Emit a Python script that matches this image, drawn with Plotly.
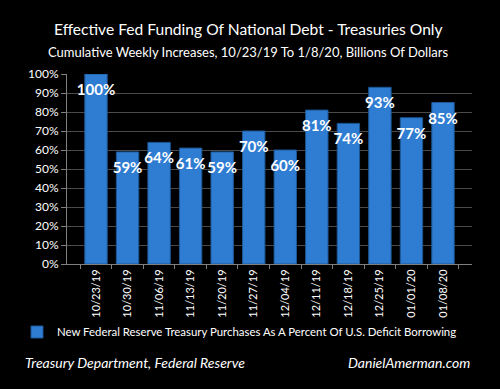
import plotly.graph_objects as go

dates = ["10/23/19", "10/30/19", "11/06/19", "11/13/19", "11/20/19", "11/27/19",
         "12/04/19", "12/11/19", "12/18/19", "12/25/19", "01/01/20", "01/08/20"]
values = [100, 59, 64, 61, 59, 70, 60, 81, 74, 93, 77, 85]
series_name = "New Federal Reserve Treasury Purchases As A Percent Of U.S. Deficit Borrowing"
title = "Effective Fed Funding Of National Debt - Treasuries Only"
subtitle = "Cumulative Weekly Increases, 10/23/19 To 1/8/20, Billions Of Dollars"
source_left = "Treasury Department, Federal Reserve"
source_right = "DanielAmerman.com"
y_ticks = list(range(0, 101, 10))

FONT = "Lato, 'Open Sans', sans-serif"

fig = go.Figure()
fig.add_trace(go.Bar(
    x=dates, y=values, name=series_name,
    marker=dict(color="#2f7dd3", line=dict(color="#1d5794", width=1)),
    textposition="none",
    showlegend=True,
))
fig.add_trace(go.Scatter(
    x=dates, y=values, mode="markers+text",
    marker=dict(size=14, opacity=0),
    text=[f"{v}%" for v in values], textposition="bottom center",
    textfont=dict(color="white", size=15, family=FONT, weight="bold"),
    showlegend=False, hoverinfo="skip", cliponaxis=False,
))

W, H = 500, 389
L, R, T, B = 67, 28, 74, 125
pw = W - L - R
ph = H - T - B

def px_x(px):
    return (px - L) / pw

def py(px):
    return (H - B - px) / ph

fig.update_layout(
    width=W, height=H,
    paper_bgcolor="black", plot_bgcolor="black",
    margin=dict(l=L, r=R, t=T, b=B),
    bargap=0.29,
    font=dict(family=FONT, color="white"),
    xaxis=dict(
        tickangle=-90, tickfont=dict(size=11, color="white"),
        showgrid=False, showline=True, linecolor="#7f7f7f", linewidth=1,
        ticks="outside", tickson="boundaries", tickcolor="#7f7f7f", ticklen=4,
    ),
    yaxis=dict(
        range=[0, 100], tickvals=y_ticks, ticktext=[f"{v}%" for v in y_ticks],
        tickfont=dict(size=12, color="white"),
        showgrid=True, gridcolor="#4a4a4a", gridwidth=1,
        showline=True, linecolor="#7f7f7f", linewidth=1,
        ticks="outside", tickcolor="#7f7f7f", ticklen=5, zeroline=False,
    ),
    legend=dict(
        orientation="h", x=px_x(17), xanchor="left",
        y=py(332), yanchor="middle", font=dict(size=11.4, color="white"),
        bgcolor="rgba(0,0,0,0)",
    ),
)

fig.add_annotation(text=title, xref="paper", yref="paper", x=px_x(248),
                   y=py(29), xanchor="center", yanchor="middle", showarrow=False,
                   font=dict(size=15.6, color="white", family=FONT))
fig.add_annotation(text=subtitle, xref="paper", yref="paper", x=px_x(248),
                   y=py(52), xanchor="center", yanchor="middle", showarrow=False,
                   font=dict(size=13, color="white", family=FONT))
fig.add_annotation(text=f"<i>{source_left}</i>", xref="paper", yref="paper",
                   x=px_x(23), y=py(362), xanchor="left", yanchor="middle",
                   showarrow=False, font=dict(size=14, color="white", family=FONT))
fig.add_annotation(text=f"<i>{source_right}</i>", xref="paper", yref="paper",
                   x=px_x(472), y=py(362), xanchor="right", yanchor="middle",
                   showarrow=False, font=dict(size=14, color="white", family=FONT))

fig.write_html(
    "out.html",
    config={"displayModeBar": False},
    post_script="document.body.style.margin='0px';document.body.style.background='black';",
)
